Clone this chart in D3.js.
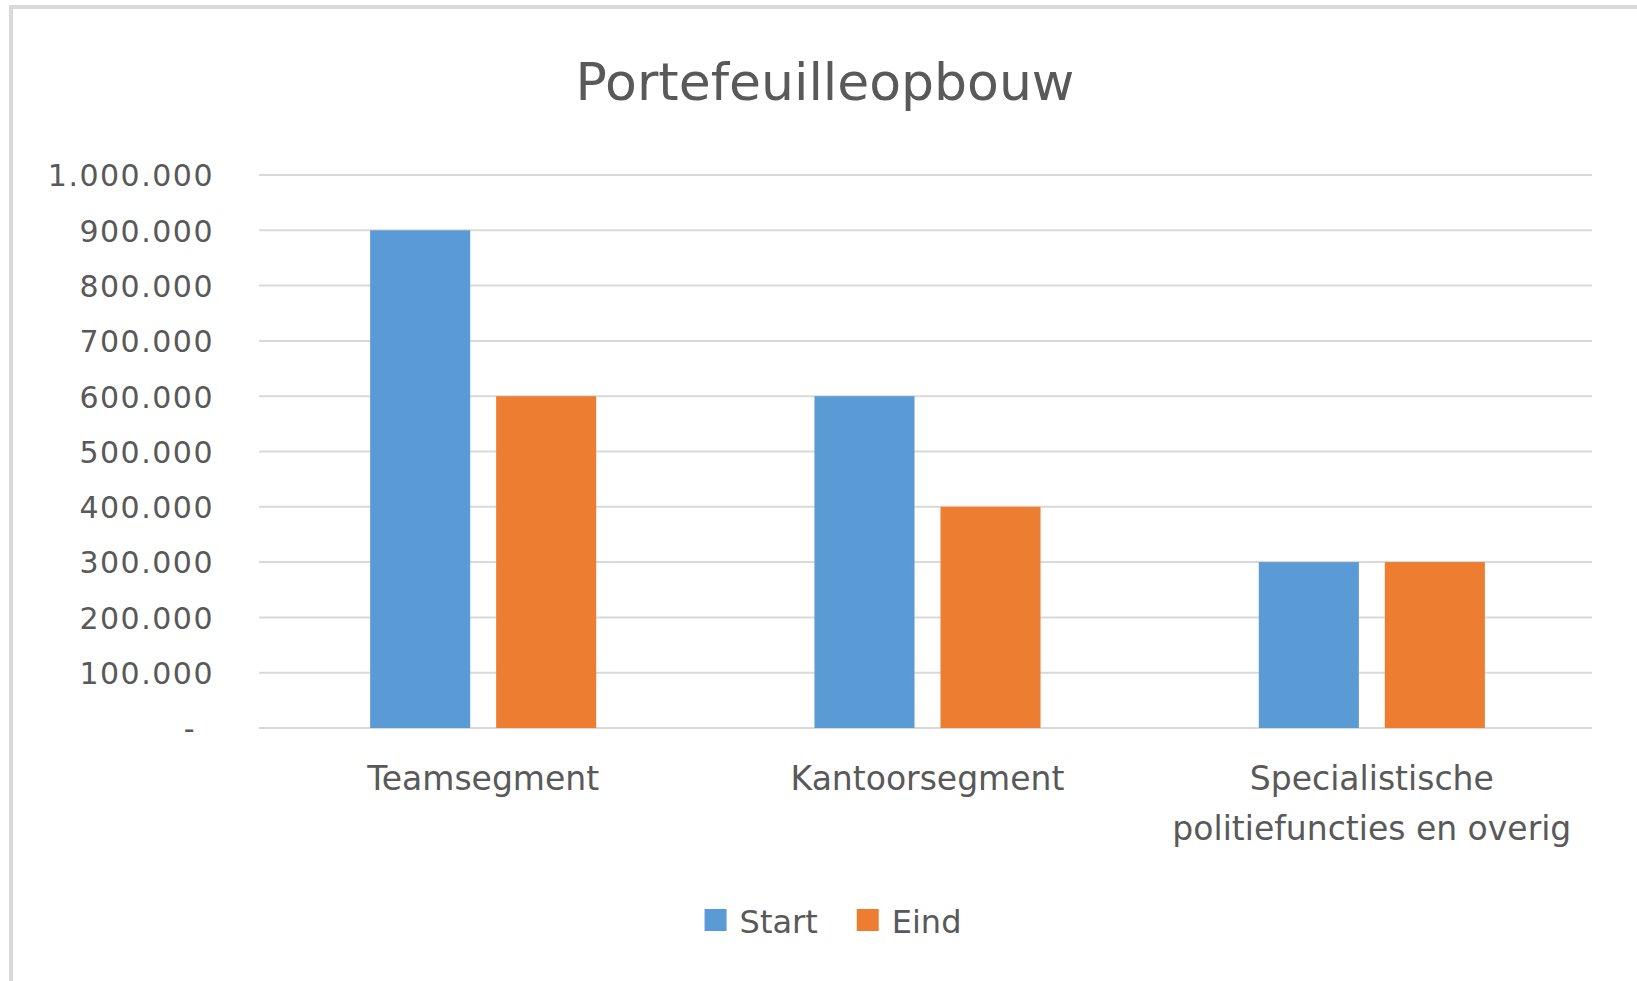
<!DOCTYPE html>
<html>
<head>
<meta charset="utf-8">
<script src="https://cdn.jsdelivr.net/npm/d3@7"></script>
<style>
  html, body { margin: 0; padding: 0; background: #fff; }
  svg text { font-family: "DejaVu Sans", sans-serif; fill: #595959; }
</style>
</head>
<body>
<svg id="chart" width="1637" height="981"></svg>
<script>
// chart data
const categories  = ["Teamsegment", "Kantoorsegment", "Specialistische\npolitiefuncties en overig"];
const seriesNames = ["Start", "Eind"];
const startValues = [900000, 600000, 300000];
const eindValues  = [600000, 400000, 300000];
const yTicks      = [0, 100000, 200000, 300000, 400000, 500000, 600000, 700000, 800000, 900000, 1000000];
const chartTitle  = "Portefeuilleopbouw";

drawChart();

function drawChart() {
  let svg       = d3.select("#chart"),
    width       = 1637,
    height      = 981,
    plotLeft    = 259,
    plotRight   = 1592,
    plotTop     = 175,
    plotBottom  = 728,
    colors      = d3.scaleOrdinal().domain(seriesNames).range(["#5B9BD5", "#ED7D31"]),
    nl          = d3.formatLocale({decimal: ",", thousands: ".", grouping: [3], currency: ["€", ""]}),
    fmt         = nl.format(",d"),
    x           = d3.scaleBand().domain(categories).range([plotLeft + 2, plotRight + 2]),
    xInner      = d3.scaleBand().domain(seriesNames).range([0, x.bandwidth()])
                    .paddingInner(0.206).paddingOuter(0.866),
    y           = d3.scaleLinear().domain([0, 1000000]).range([plotBottom, plotTop]);

  // rows: one entry per category
  let rows = categories.map((c, i) => ({cat: c, Start: startValues[i], Eind: eindValues[i]}));

  // chart area border (only top/left visible in the crop)
  svg.append("rect").attr("x", 9).attr("y", 5).attr("width", width).attr("height", 4).attr("fill", "#d9d9d9");
  svg.append("rect").attr("x", 9).attr("y", 5).attr("width", 4).attr("height", height).attr("fill", "#d9d9d9");

  // title
  svg.append("text")
    .attr("x", 825)
    .attr("y", 100)
    .attr("text-anchor", "middle")
    .style("font-size", "52px")
    .text(chartTitle);

  // gridlines
  svg.append("g")
    .selectAll("line")
    .data(yTicks)
    .enter().append("line")
    .attr("x1", plotLeft)
    .attr("x2", plotRight)
    .attr("y1", d => y(d))
    .attr("y2", d => y(d))
    .attr("stroke", "#d9d9d9")
    .attr("stroke-width", 2);

  // y axis labels
  let yAxis = svg.append("g")
    .attr("transform", "translate(" + 214 + ",0)")
    .call(d3.axisLeft(y).tickValues(yTicks).tickSize(0).tickPadding(0)
      .tickFormat(d => d === 0 ? "-" : fmt(d)));
  yAxis.select(".domain").remove();
  yAxis.selectAll("text")
    .style("font-size", "30px")
    .style("letter-spacing", "1.5px")
    .attr("fill", "#595959")
    .attr("dy", "0.36em")
    .attr("x", d => d === 0 ? -18 : 0);
  yAxis.attr("font-family", null).attr("font-size", null);

  // bars
  svg.append("g")
    .selectAll("g")
    .data(rows)
    .enter().append("g")
    .attr("transform", d => "translate(" + x(d.cat) + ",0)")
    .selectAll("rect")
    .data(d => seriesNames.map(k => ({key: k, value: d[k]})))
    .enter().append("rect")
    .attr("x", d => xInner(d.key))
    .attr("width", xInner.bandwidth())
    .attr("y", d => y(d.value))
    .attr("height", d => y(0) - y(d.value))
    .attr("fill", d => colors(d.key));

  // category labels (may wrap onto two lines)
  let catLabels = svg.append("g")
    .selectAll("text")
    .data(categories)
    .enter().append("text")
    .attr("text-anchor", "middle")
    .style("font-size", "33px")
    .attr("x", d => x(d) + x.bandwidth() / 2)
    .attr("y", 790);
  catLabels.selectAll("tspan")
    .data(d => d.split("\n").map(t => ({t: t, c: d})))
    .enter().append("tspan")
    .attr("x", d => x(d.c) + x.bandwidth() / 2)
    .attr("dy", (d, i) => i === 0 ? 0 : 50)
    .text(d => d.t);

  // legend
  let legend = svg.append("g").attr("transform", "translate(0,909)"),
    items    = legend.selectAll("g").data(seriesNames).enter().append("g");
  items.append("rect")
    .attr("width", 22)
    .attr("height", 22)
    .attr("fill", d => colors(d));
  items.append("text")
    .attr("x", 35)
    .attr("y", 24)
    .style("font-size", "32px")
    .text(d => d);

  let offsets = [], pos = 0;
  items.each(function (d) {
    offsets.push(pos);
    pos += this.getBBox().width + 39;
  });
  let total = pos - 39,
    start   = 833 - total / 2;
  items.attr("transform", (d, i) => "translate(" + (start + offsets[i]) + ",0)");
}
</script>
</body>
</html>
